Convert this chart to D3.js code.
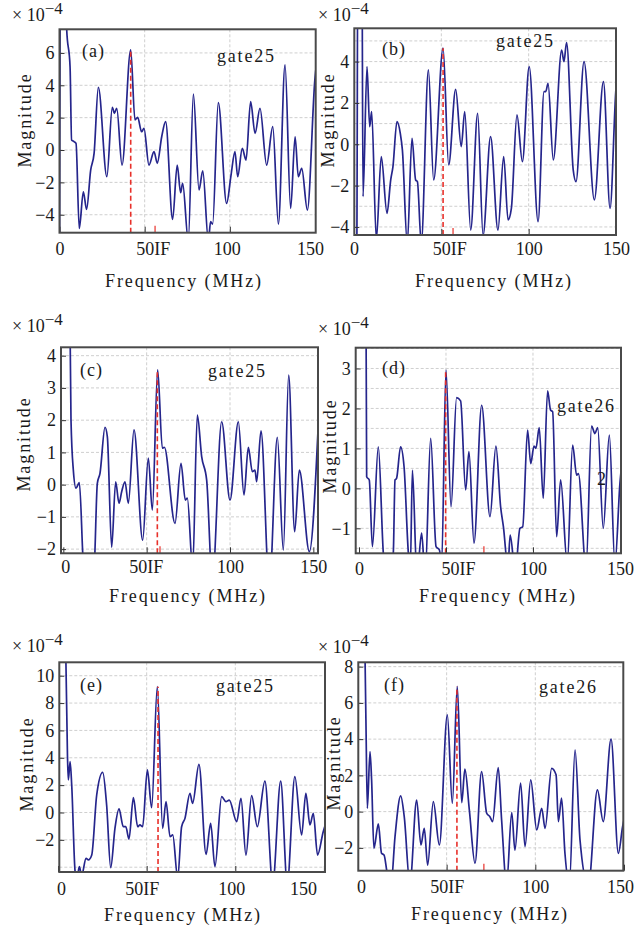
<!DOCTYPE html>
<html><head><meta charset="utf-8">
<script src="https://cdn.jsdelivr.net/npm/d3@7"></script>
<style>body{margin:0;background:#fff}svg{display:block}</style>
</head><body>
<svg id="c" width="634" height="926"></svg>
<script>
// ---------- data ----------
const panelLabels = ["(a)", "(b)", "(c)", "(d)", "(e)", "(f)"];
const gateLabels = ["gate25", "gate25", "gate25", "gate26", "gate25", "gate26"];
const xTickValues = [0, 50, 100, 150];
const xTickLabels = ["0", "50", "100", "150"];
const ifText = "IF";
const yTicksA = [-4, -2, 0, 2, 4, 6];
const yTicksB = [-4, -2, 0, 2, 4];
const yTicksC = [-2, -1, 0, 1, 2, 3, 4];
const yTicksD = [-1, 0, 1, 2, 3];
const yTicksE = [-2, 0, 2, 4, 6, 8, 10];
const yTicksF = [-2, 0, 2, 4, 6, 8];
const xTitle = "Frequency (MHz)";
const yTitle = "Magnitude";

// [frequency (MHz), magnitude (x1e-4)]
const seriesA = [[0,-7],[0.6,12],[3.5,12],[4.2,7.5],[6.2,5.15],[7.1,0.62],[8.5,0.52],[9.7,0.41],[11.6,-4.85],[14.0,-2.58],[15.9,-3.67],[18.3,-1.24],[20.3,-0.21],[22.8,3.88],[27.8,-1.65],[31.0,2.64],[32.2,2.27],[33.6,2.58],[36.7,-0.93],[41.8,6.19],[44.3,1.86],[45.9,2.02],[48.2,1.13],[49.6,1.34],[52.5,-0.93],[55.5,-0.10],[57.4,-0.82],[60.0,0.82],[62.3,1.75],[66.4,-4.29],[69.1,-0.93],[71.1,-2.64],[72.3,-2.06],[75.6,-5.6],[78.6,3.46],[81.9,-2.47],[84.1,-1.28],[87.4,-5.6],[88.7,-4.43],[89.9,-4.58],[93.2,2.93],[98.1,-3.30],[100.7,-1.55],[103.0,-0.10],[104.6,-1.65],[107.3,0.10],[109.5,-0.62],[112.2,2.99],[114.8,1.03],[117.7,2.58],[121.6,-0.93],[125.2,1.44],[128.5,-4.58],[132.4,5.26],[135.7,-3.61],[138.3,0.82],[140.2,-1.65],[142.2,-1.13],[145.5,-3.71],[149.9,4.33],[151,5.5]];
const seriesB = [[0,-6],[1.6,-5],[2.2,10],[4.5,10],[5.16,-2.53],[7.45,3.76],[8.97,0.85],[10.1,1.58],[12.8,-4.6],[15.6,-0.6],[18.9,-3.34],[21.0,-1.73],[22.3,-1.08],[24.6,1.10],[26.5,0.53],[27.7,-0.27],[30.5,-4.8],[33.2,0.29],[35.3,-1.73],[36.3,-1.81],[38.5,-4.8],[42.6,3.60],[45.6,-1.73],[51.0,4.65],[54.2,-1.0],[58.2,2.66],[61.4,-0.11],[63.4,1.58],[66.8,-4.15],[70.8,1.50],[73.9,-4.4],[78.2,0.37],[82.4,-4.15],[85.7,-0.60],[88.2,-3.66],[90.1,-3.10],[93.3,1.42],[96.4,-0.84],[100.3,3.76],[105.4,-3.74],[108.8,2.55],[109.8,2.55],[111.1,2.95],[114.1,-0.76],[118.9,4.56],[120.2,4.0],[121.7,4.92],[125.5,-1.24],[127.1,-1.81],[131.7,4.0],[137.6,-2.69],[142.8,3.03],[146.6,-3.10],[150.0,2.71],[151,3.5]];
const seriesC = [[3.0,10],[4.6,2.0],[6.0,0.45],[7.6,-0.11],[9.6,0.06],[11.8,-2.3],[15.3,-4.5],[18.8,-2.3],[20.4,0.04],[22.0,0.35],[25.0,1.78],[26.4,1.49],[29.0,-1.94],[31.4,0.09],[33.4,-0.58],[35.0,-0.22],[37.0,0.09],[39.0,-0.58],[42.4,1.70],[47.6,-1.72],[51.0,0.82],[53.4,-0.79],[56.6,3.56],[59.4,1.13],[60.6,1.16],[67.0,-1.20],[70.6,0.66],[73.2,-0.48],[74.4,-0.42],[77.6,-2.6],[80.4,2.16],[83.0,0.87],[86.0,0.14],[89.4,-3.0],[95.0,1.95],[100.0,-0.48],[105.0,1.95],[108.4,-0.32],[111.0,1.16],[113.4,0.40],[115.0,0.45],[116.0,0.09],[118.6,1.67],[123.6,-3.2],[128.4,1.47],[132.0,-2.03],[135.2,3.40],[138.8,-1.46],[141.6,0.45],[147.6,-2.08],[153.0,1.90]];
const seriesD = [[3.6,9],[4.4,0.29],[5.9,0.21],[7.7,-1.46],[11.1,1.04],[14.0,-1.63],[16.8,-2.4],[19.7,-1.63],[20.7,0.21],[21.6,0.25],[23.9,1.04],[25.9,0.54],[28.4,-1.63],[29.5,-2.0],[30.7,0.46],[33.3,-2.2],[36.0,-1.12],[38.0,-2.2],[41.2,1.25],[44.3,-1.46],[46.2,-1.54],[47.5,-1.9],[50.0,2.96],[52.9,-0.46],[56.1,2.27],[58.4,2.19],[61.3,-0.04],[63.2,0.92],[66.1,-1.37],[70.5,2.08],[75.3,-0.71],[78.7,1.06],[81.4,-0.46],[83.0,-0.96],[85.6,-1.96],[86.9,-1.17],[89.8,-2.1],[92.5,-1.0],[94.1,-0.96],[96.9,1.46],[98.7,0.62],[100.6,1.06],[101.7,1.0],[103.6,1.52],[105.9,-0.25],[108.4,2.44],[110.1,1.96],[111.3,1.92],[113.6,-1.21],[115.9,0.21],[119.7,-1.9],[122.8,1.08],[125.1,0.33],[126.1,0.37],[130.5,-2.0],[133.7,1.56],[135.6,1.37],[137.2,1.52],[140.4,-1.0],[143.9,1.33],[147.1,-1.9],[150.0,0.13],[151,0.6]];
const seriesE = [[3.8,16],[5.3,4.2],[5.8,2.38],[6.8,3.72],[7.7,2.01],[9.6,-4.3],[10.6,-4.9],[12.0,-3.96],[13.3,-4.6],[15.8,-3.35],[17.1,-3.47],[19.0,-3.11],[21.8,1.28],[25.2,2.94],[27.4,0.55],[29.7,-4.03],[32.1,-1.16],[34.4,0.26],[36.8,-1.04],[38.2,-1.04],[40.0,-1.94],[42.5,1.08],[44.9,-1.04],[46.2,-0.91],[47.7,-1.04],[50.4,3.11],[52.8,0.35],[56.0,9.20],[59.0,-1.16],[60.9,0.79],[63.2,-1.77],[64.7,-1.64],[67.5,-4.8],[69.7,-1.04],[71.6,-0.43],[74.4,1.40],[75.9,0.67],[79.5,3.52],[83.5,-3.06],[86.1,-0.79],[88.5,-3.96],[92.3,1.16],[94.7,0.79],[96.6,0.91],[100.8,-0.67],[103.2,1.04],[106.0,-3.11],[109.2,1.23],[112.4,-1.04],[116.7,2.30],[121.1,-5.2],[125.6,2.30],[129.3,-5.2],[133.6,2.62],[137.4,-1.64],[139.8,1.40],[142.1,-0.91],[144.0,-0.06],[146.4,-3.11],[149.6,-1.40],[151,-0.8]];
const seriesF = [[3.2,14],[4.5,5.06],[5.3,0.18],[6.8,3.31],[7.7,1.75],[9.0,-2.03],[11.5,-0.68],[13.3,-2.30],[14.7,-2.39],[16.5,-3.4],[18.6,-4.1],[20.9,-1.38],[24.1,0.87],[26.1,-0.28],[29.3,-4.0],[33.1,0.64],[35.5,-1.84],[37.4,-0.92],[39.3,-2.95],[42.5,0.55],[45.9,-1.84],[50.4,5.34],[53.2,0.46],[56.0,6.91],[58.5,0.50],[60.3,2.34],[62.8,0.09],[66.0,-2.85],[69.7,2.21],[72.6,-0.09],[74.4,-0.28],[75.9,-0.55],[79.1,2.43],[81.0,-0.46],[83.8,-4.0],[86.7,-0.06],[88.5,-2.12],[91.7,1.57],[94.2,-1.93],[97.4,1.75],[100.8,-1.01],[103.6,0.18],[105.5,-0.92],[109.2,2.39],[111.7,2.03],[113.0,-0.55],[114.8,0.74],[116.7,-2.30],[119.2,-4.0],[122.4,3.41],[125.2,-1.57],[129.9,-4.1],[135.0,1.20],[138.3,-0.55],[142.7,4.00],[146.8,-2.30],[149.2,-0.83],[150.5,-0.2]];

const ifFreqs = [41.8, 51.0, 56.4, 49.8, 56.4, 55.8];
const ifPeaks = [6.19, 4.65, 3.56, 2.96, 9.2, 6.9];
const ifMarks = [56.1, 56.7, 58.0, 71.8, null, 71.0];
const extraLabelD = "2";

const allSeries = [seriesA, seriesB, seriesC, seriesD, seriesE, seriesF];
const allYTicks = [yTicksA, yTicksB, yTicksC, yTicksD, yTicksE, yTicksF];

// ---------- layout ----------
const layout = [
 {box:[59.5,29.3,315.7,232.7], xDom:[0,150.4], yDom:[-5.11,7.46], grid:2, xdx:[0,0,-3,-5], tickBase:255, titleX:184, titleBase:287, magX:25, magY:120, expX:12, expBase:21, letX:82, letBase:57, gateX:217, gateBase:62},
 {box:[354.3,28.3,616,235], xDom:[0.17,150.0], yDom:[-4.39,5.61], grid:1, xdx:[0,0,0,0], tickBase:255, titleX:494, titleBase:287, magX:328, magY:120, expX:318, expBase:21, letX:382, letBase:55, gateX:496, gateBase:47},
 {box:[61,347.3,318,553.3], xDom:[-1.4,152.8], yDom:[-2.13,4.26], grid:1, xdx:[2,-9,0,0], tickBase:573, titleX:188, titleBase:602, magX:24, magY:444, expX:12, expBase:332, letX:80, letBase:376, gateX:208, gateBase:377},
 {box:[355.7,347.7,621,553.3], xDom:[-1.9,150.6], yDom:[-1.625,3.52], grid:0.5, xdx:[0,4,0,0], tickBase:575, titleX:498, titleBase:602, magX:330, magY:446, expX:318, expBase:335, letX:382, letBase:374, gateX:557, gateBase:412, extra:[597,485]},
 {box:[59.3,662.3,325,872], xDom:[0.7,150.6], yDom:[-4.35,10.98], grid:2, xdx:[3,-13,-4,-21], tickBase:895, titleX:183, titleBase:921, magX:27, magY:764, expX:12, expBase:652, letX:80, letBase:691, gateX:216, gateBase:692},
 {box:[358.3,662.3,623.3,870.7], xDom:[0.2,149.6], yDom:[-3.26,8.24], grid:2, xdx:[3,-8,0,-4], tickBase:893, titleX:490, titleBase:920, magX:334, magY:763, expX:318, expBase:653, letX:384, letBase:691, gateX:539, gateBase:693}
];

const FONT = "'Liberation Serif', 'Times New Roman', serif";
const TXT = "#1a1a1a";
const LINE = "#25258c";
const RED = "#e8302a";

const svg = d3.select("#c");
const defs = svg.append("defs");

layout.forEach((L, i) => {
  const [x0, y0, x1, y1] = L.box;
  const x = d3.scaleLinear().domain(L.xDom).range([x0, x1]);
  const y = d3.scaleLinear().domain(L.yDom).range([y1, y0]);
  const g = svg.append("g");

  defs.append("clipPath").attr("id", "clip" + i)
    .append("rect").attr("x", x0).attr("y", y0).attr("width", x1 - x0).attr("height", y1 - y0);

  // grid
  const gstart = Math.ceil(L.yDom[0] / L.grid - 1e-9);
  const gend = Math.floor(L.yDom[1] / L.grid + 1e-9);
  const gridVals = d3.range(gstart, gend + 1).map(k => k * L.grid);
  g.append("g").selectAll("line").data(gridVals).join("line")
    .attr("x1", x0).attr("x2", x1).attr("y1", d => y(d)).attr("y2", d => y(d))
    .attr("stroke", "#cfcfcf").attr("stroke-width", 1).attr("stroke-dasharray", "3,2");
  g.append("g").selectAll("line").data([50, 100]).join("line")
    .attr("x1", d => x(d)).attr("x2", d => x(d)).attr("y1", y0).attr("y2", y1)
    .attr("stroke", "#cfcfcf").attr("stroke-width", 1).attr("stroke-dasharray", "3,2");

  // curve
  const line = d3.line().x(d => x(d[0])).y(d => y(d[1])).curve(d3.curveMonotoneX);
  g.append("path").datum(allSeries[i]).attr("clip-path", `url(#clip${i})`)
    .attr("d", line).attr("fill", "none").attr("stroke", LINE)
    .attr("stroke-width", 1.7).attr("stroke-linejoin", "round");

  // IF red dashed line
  g.append("line").attr("x1", x(ifFreqs[i])).attr("x2", x(ifFreqs[i]))
    .attr("y1", y(L.yDom[0])).attr("y2", y(ifPeaks[i]))
    .attr("stroke", RED).attr("stroke-width", 1.6).attr("stroke-dasharray", "5,3");
  if (ifMarks[i] != null) {
    g.append("line").attr("x1", x(ifMarks[i])).attr("x2", x(ifMarks[i]))
      .attr("y1", y1).attr("y2", y1 - 7).attr("stroke", RED).attr("stroke-width", 1.2);
  }

  // axes
  const yAxis = d3.axisLeft(y).tickValues(allYTicks[i]).tickSize(-5).tickPadding(5)
    .tickFormat(d => d < 0 ? "\u2212" + (-d) : String(d));
  const ya = g.append("g").attr("transform", `translate(${x0},0)`).call(yAxis);
  ya.select(".domain").remove();
  ya.selectAll(".tick line").attr("stroke", "#333");
  ya.selectAll(".tick text").attr("font-family", FONT).attr("font-size", 18).attr("fill", TXT);

  const xAxis = d3.axisBottom(x).tickValues(xTickValues).tickSize(-6)
    .tickFormat((d, j) => xTickLabels[j]);
  const xa = g.append("g").attr("transform", `translate(0,${y1})`).call(xAxis);
  xa.select(".domain").remove();
  xa.selectAll(".tick line").attr("stroke", "#333");
  xa.selectAll(".tick text").attr("font-family", FONT).attr("font-size", 18).attr("fill", TXT)
    .attr("dy", null).attr("y", L.tickBase - y1).attr("x", (d, j) => L.xdx[j]);
  xa.selectAll(".tick").filter(d => d === 50).each(function (d) {
    const t = d3.select(this).select("text");
    const w = t.node().getComputedTextLength();
    d3.select(this).append("text").text(ifText)
      .attr("x", L.xdx[1] + w / 2).attr("y", L.tickBase - y1)
      .attr("text-anchor", "start").attr("font-family", FONT).attr("font-size", 18).attr("fill", TXT);
  });

  // frame
  g.append("rect").attr("x", x0).attr("y", y0).attr("width", x1 - x0).attr("height", y1 - y0)
    .attr("fill", "none").attr("stroke", "#4a4a4a").attr("stroke-width", 2);

  // titles
  g.append("text").attr("x", L.titleX).attr("y", L.titleBase).attr("text-anchor", "middle")
    .attr("font-family", FONT).attr("font-size", 18).attr("letter-spacing", 1.9).attr("fill", TXT)
    .text(xTitle);
  g.append("text").attr("transform", `translate(${L.magX},${L.magY}) rotate(-90)`)
    .attr("text-anchor", "middle").attr("dominant-baseline", "central")
    .attr("font-family", FONT).attr("font-size", 18).attr("letter-spacing", 1.9).attr("fill", TXT)
    .text(yTitle);

  // exponent
  const ex = g.append("text").attr("x", L.expX).attr("y", L.expBase)
    .attr("font-family", FONT).attr("font-size", 18).attr("fill", TXT);
  ex.append("tspan").text("\u00d7 10");
  ex.append("tspan").attr("dy", -7).attr("font-size", 17).text("\u22124");

  // panel letter and gate
  g.append("text").attr("x", L.letX).attr("y", L.letBase)
    .attr("font-family", FONT).attr("font-size", 18).attr("letter-spacing", 1).attr("fill", TXT)
    .text(panelLabels[i]);
  g.append("text").attr("x", L.gateX).attr("y", L.gateBase)
    .attr("font-family", FONT).attr("font-size", 18).attr("letter-spacing", 1.8).attr("fill", TXT)
    .text(gateLabels[i]);
  if (L.extra) {
    g.append("text").attr("x", L.extra[0]).attr("y", L.extra[1])
      .attr("font-family", FONT).attr("font-size", 18).attr("fill", TXT).text(extraLabelD);
  }
});
</script>
</body></html>
